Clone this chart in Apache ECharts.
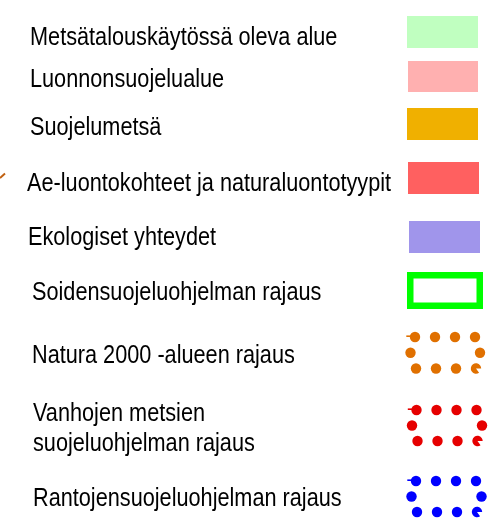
<!DOCTYPE html>
<html>
<head>
<meta charset="utf-8">
<script src="https://cdn.jsdelivr.net/npm/echarts@6/dist/echarts.min.js"></script>
<style>
html,body{margin:0;padding:0;background:#fff}
#c{width:495px;height:525px}
</style>
</head>
<body>
<div id="c"></div>
<script>
// ---- data ----
const labels = [
  'Metsätalouskäytössä oleva alue',
  'Luonnonsuojelualue',
  'Suojelumetsä',
  'Ae-luontokohteet ja naturaluontotyypit',
  'Ekologiset yhteydet',
  'Soidensuojeluohjelman rajaus',
  'Natura 2000 -alueen rajaus',
  'Vanhojen metsien\nsuojeluohjelman rajaus',
  'Rantojensuojeluohjelman rajaus'
];
const symbolKinds = ['fill', 'fill', 'fill', 'fill', 'fill', 'outline', 'dots', 'dots', 'dots'];

// ---- styles ----
const symbolColors = ['#c0ffc0', '#ffb0b0', '#f0b000', '#ff6060', '#a095eb', '#00ff00', '#e07000', '#e60000', '#0000ff'];
const FONT_SIZE = 21.7;
const TEXT_SCALE_Y = 1.18;
const FONT = FONT_SIZE + "px 'Liberation Sans', Arial, sans-serif";

// ---- layout (pixel space of the 495x525 canvas) ----
const textAnchors = [[30, 46.7], [30, 89.3], [30, 137], [27, 192.7], [28, 246.7], [32, 301.7], [32, 365], [33, 423.3], [33, 508.3]];
const symbolBoxes = [
  [407, 16, 478, 48], [408, 61, 478, 92], [407, 108, 478, 140], [408, 162, 479, 194], [409, 221, 480, 253],
  [407, 272, 483, 309],
  [410.5, 337, 480, 368.5], [412, 410, 482, 441], [411.5, 481, 481.5, 512]
];
const LINE_GAP = 30;
const OUTLINE_WIDTH = 6.5;
const DOT_R = 5.2;

function renderItem(params, api) {
  const i = api.value(0);
  const P = (x, y) => api.coord([x, y]);
  const kind = symbolKinds[i];
  const color = symbolColors[i];
  const children = [];
  const [tx, tb] = textAnchors[i];
  labels[i].split('\n').forEach((line, k) => {
    const p = P(tx, tb + k * LINE_GAP);
    children.push({
      type: 'text', x: p[0], y: p[1] - 0.3465 * FONT_SIZE * TEXT_SCALE_Y, scaleY: TEXT_SCALE_Y,
      style: { text: line, font: FONT, fill: '#000', align: 'left', verticalAlign: 'middle' }
    });
  });
  const b = symbolBoxes[i];
  const a = P(b[0], b[1]), c = P(b[2], b[3]);
  if (kind === 'fill') {
    children.push({ type: 'rect', shape: { x: a[0], y: a[1], width: c[0] - a[0], height: c[1] - a[1] }, style: { fill: color } });
  } else if (kind === 'outline') {
    const h = OUTLINE_WIDTH / 2;
    children.push({ type: 'rect', shape: { x: a[0] + h, y: a[1] + h, width: c[0] - a[0] - 2 * h, height: c[1] - a[1] - 2 * h },
      style: { fill: 'none', stroke: color, lineWidth: OUTLINE_WIDTH } });
  } else {
    const midY = (a[1] + c[1]) / 2;
    const dots = [];
    for (let k = 0; k < 4; k++) dots.push([a[0] + 4.5 + 20 * k, a[1]]);
    dots.push([a[0], midY], [c[0], midY]);
    for (let k = 0; k < 4; k++) dots.push([a[0] + 5.5 + 20 * k, c[1]]);
    dots.forEach((d, k) => {
      if (k === dots.length - 1) {
        children.push({ type: 'sector', shape: { cx: d[0], cy: d[1], r0: 0, r: DOT_R, startAngle: Math.PI * 0.3, endAngle: Math.PI * 2, clockwise: true }, style: { fill: color } });
      } else {
        children.push({ type: 'circle', shape: { cx: d[0], cy: d[1], r: DOT_R }, style: { fill: color } });
      }
    });
    // small lead-in tail at the first dot
    children.push({ type: 'line', shape: { x1: dots[0][0] - DOT_R - 3.5, y1: dots[0][1] - 0.8, x2: dots[0][0], y2: dots[0][1] - 0.8 }, style: { stroke: color, lineWidth: 1.6 } });
  }
  if (i === 3) {
    // small stray orange stroke at the left edge
    const s1 = P(0, 178), s2 = P(5, 173.5);
    children.push({ type: 'line', shape: { x1: s1[0], y1: s1[1], x2: s2[0], y2: s2[1] }, style: { stroke: '#c06010', lineWidth: 2 } });
  }
  return { type: 'group', children };
}

const chart = echarts.init(document.getElementById('c'), null, { renderer: 'canvas' });
chart.setOption({
  animation: false,
  backgroundColor: '#fff',
  grid: { left: 0, right: 0, top: 0, bottom: 0 },
  xAxis: { type: 'value', min: 0, max: 495, show: false },
  yAxis: { type: 'value', min: 0, max: 525, inverse: true, show: false },
  series: [{
    type: 'custom',
    renderItem: renderItem,
    data: labels.map((l, i) => [i]),
    encode: { x: -1, y: -1 },
    silent: true
  }]
});
</script>
</body>
</html>
